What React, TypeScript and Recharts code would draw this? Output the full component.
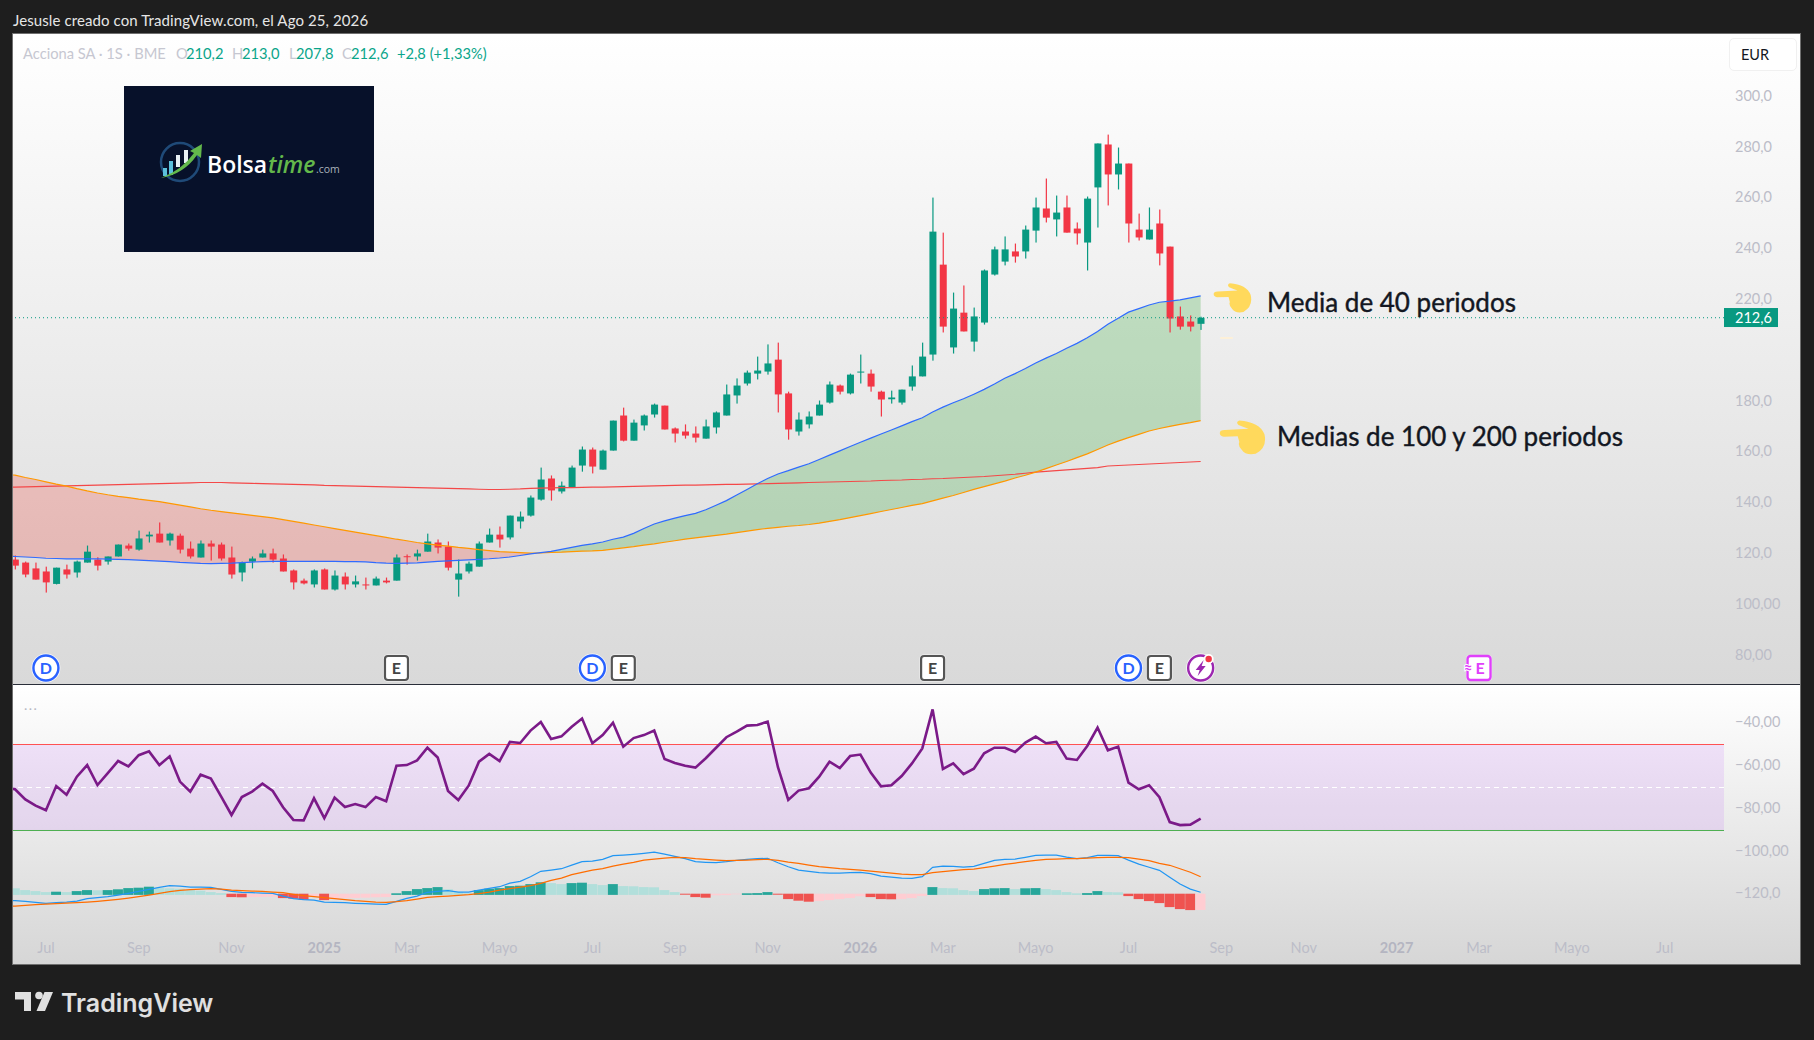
import React from "react";
import { ComposedChart, Bar, Line, Area, XAxis, YAxis, ReferenceLine, ReferenceArea, ReferenceDot, Cell } from "recharts";

// Candles, index 0 = first visible week
const opens = [
117.4,116.2,113.9,112.7,107.8,113.5,112.3,116.2,117.4,116.6,
118.6,122.9,121.3,126.5,127.6,124.9,126.8,121.7,118.2,123.7,
123.3,118.2,112.3,116.6,118.2,119.8,117.8,113.1,109.1,107.6,
113.5,105.6,110.7,107.6,107.6,107.2,109.1,109.1,118.7,118.6,
120.5,124.1,122.5,109.5,112.7,114.6,124.1,127.2,126.1,132.4,
134.7,141.0,149.3,144.2,145.8,154.4,160.7,152.8,160.3,174.1,
164.2,170.2,174.5,178.0,169.0,167.8,167.0,165.0,169.4,174.1,
182.0,186.7,190.6,191.4,196.1,182.8,167.8,170.6,174.1,179.2,
185.9,182.8,191.0,190.6,183.5,180.5,179.2,185.5,189.5,198.1,
233.5,200.9,214.6,203.2,210.7,229.6,234.7,238.7,238.7,246.9,
255.6,251.3,256.0,247.7,242.2,263.9,280.8,269.0,273.3,247.3,
243.4,249.7,240.6,213.1,211.1,210.2];
const highs = [
119.0,116.6,116.2,114.6,114.2,115.4,117.0,122.9,118.3,118.6,
123.3,123.7,128.8,128.4,132.0,128.0,127.6,124.5,124.9,124.9,
124.1,122.5,116.6,118.6,121.3,121.7,119.4,113.5,109.9,113.5,
113.9,113.1,112.3,111.1,110.3,110.7,110.3,119.4,119.4,121.3,
127.6,125.3,124.5,117.4,116.6,124.5,129.6,130.4,134.7,136.3,
142.6,153.6,150.5,148.1,154.4,161.9,161.5,160.7,172.1,177.2,
172.5,174.5,178.8,178.0,169.4,170.6,169.8,172.5,175.7,186.3,
188.7,191.8,197.3,202.1,202.8,183.5,175.3,175.7,180.0,187.5,
186.3,190.6,198.1,192.2,183.9,183.9,184.3,193.8,202.8,259.9,
246.1,222.5,225.3,216.6,231.6,240.6,244.6,241.8,248.9,259.9,
267.4,260.7,260.7,250.1,260.3,281.2,284.7,279.6,273.3,253.6,
256.0,255.2,240.6,217.0,213.5,213.0];
const lows = [
113.5,110.4,109.5,104.4,107.6,109.9,110.3,116.2,113.1,115.4,
118.6,120.9,120.9,124.1,124.1,122.9,119.8,117.8,118.2,117.0,
117.0,109.9,108.8,113.9,118.2,116.2,112.7,105.6,107.6,106.4,
105.6,105.2,105.6,106.4,105.6,107.2,108.0,109.1,115.4,117.0,
120.5,119.8,113.1,102.8,111.9,114.6,124.1,122.1,125.3,129.6,
134.3,140.6,140.6,143.4,145.6,152.0,151.3,152.8,160.3,163.9,
164.2,168.2,173.3,168.6,163.5,165.0,163.5,165.0,167.0,174.1,
178.8,185.9,188.3,190.2,175.3,164.6,166.2,169.0,174.1,178.8,
182.4,182.4,186.7,183.5,173.7,178.8,178.4,183.9,189.5,195.7,
206.8,198.5,207.2,199.3,209.9,229.2,233.2,234.3,235.9,242.2,
250.1,244.6,246.1,241.4,231.2,248.1,256.8,263.1,242.2,243.0,
243.4,233.2,206.8,207.9,207.2,207.8];
const closes = [
115.0,111.5,109.5,108.4,114.2,111.5,116.6,120.5,115.0,118.6,
123.3,121.7,125.7,127.2,124.1,127.6,121.3,118.6,123.7,122.5,
117.8,111.5,116.2,117.8,119.8,117.4,112.7,108.4,108.0,113.1,
105.6,111.1,107.6,108.8,107.2,109.9,108.4,118.2,118.5,119.8,
124.5,122.1,114.2,111.9,115.8,123.7,127.2,125.3,134.7,134.3,
141.8,148.9,144.6,146.5,153.6,160.7,154.0,160.3,172.1,164.2,
171.3,174.1,178.4,168.6,167.0,166.2,165.4,169.8,175.3,182.4,
185.9,191.0,191.8,194.6,182.4,168.6,172.5,173.7,178.4,186.3,
183.5,190.2,191.4,185.5,180.4,181.2,184.3,189.5,197.3,246.5,
209.1,216.2,207.2,213.1,231.2,239.5,239.5,236.7,247.3,256.0,
252.0,254.0,246.1,245.8,259.5,281.2,269.0,273.3,249.7,244.2,
247.3,237.9,212.3,209.1,209.1,212.6];

// Moving averages and oscillators start one week earlier (index -1)
const ma40 = [
118.7,118.6,118.4,118.2,117.9,117.8,117.7,117.7,117.7,117.7,117.6,117.5,117.4,117.2,117.0,116.8,116.6,116.3,116.1,115.9,
115.8,115.9,116.0,116.2,116.4,116.6,116.7,116.7,116.7,116.7,116.7,116.7,116.7,116.6,116.6,116.5,116.2,116.0,115.9,116.0,
116.1,116.4,116.7,116.9,117.1,117.3,117.5,117.7,118.0,118.4,119.0,119.6,120.1,120.6,121.4,122.2,123.0,123.6,124.3,125.4,
126.2,127.7,129.6,131.4,132.6,133.7,134.7,135.6,137.0,138.8,140.6,142.8,145.0,147.2,149.3,151.1,152.4,153.8,155.1,156.8,
158.5,160.2,161.9,163.6,165.2,166.8,168.4,170.0,171.7,173.2,175.5,177.4,179.1,180.7,182.5,184.4,186.5,188.8,190.6,192.6,
194.8,196.7,198.5,200.6,202.5,204.7,207.2,210.0,212.4,214.8,216.2,217.6,218.7,219.1,219.6,220.4,221.2];
const ma100 = [
151.0,150.6,149.7,148.9,148.0,147.1,146.3,145.3,144.4,143.6,142.9,142.3,141.8,141.2,140.7,140.2,139.5,138.8,138.1,137.4,
136.8,136.3,135.8,135.3,134.8,134.3,133.8,133.1,132.4,131.7,131.0,130.3,129.6,128.9,128.2,127.5,126.8,126.1,125.4,124.8,
124.1,123.6,123.1,122.7,122.2,121.8,121.3,120.9,120.5,120.3,120.1,119.9,120.0,120.2,120.3,120.5,120.7,120.8,121.0,121.5,
122.0,122.5,123.1,123.6,124.2,124.8,125.4,125.9,126.4,126.9,127.4,128.0,128.6,129.2,129.7,130.1,130.5,130.8,131.2,131.7,
132.4,133.1,133.9,134.7,135.5,136.3,137.1,137.9,138.7,139.4,140.5,141.6,142.6,143.8,145.0,146.1,147.2,148.3,149.5,150.6,
151.8,153.2,154.6,156.0,157.5,159.0,160.7,162.5,164.0,165.4,166.7,168.0,169.0,169.8,170.6,171.3,172.1];
const ma200 = [
145.9,145.9,146.0,146.1,146.2,146.3,146.4,146.5,146.6,146.7,146.8,146.9,147.0,147.1,147.2,147.3,147.4,147.5,147.6,147.7,
147.7,147.7,147.6,147.5,147.4,147.3,147.2,147.1,147.0,146.9,146.8,146.6,146.5,146.4,146.3,146.2,146.1,146.0,145.9,145.8,
145.7,145.6,145.5,145.4,145.3,145.2,145.1,145.0,145.0,145.1,145.2,145.4,145.5,145.6,145.7,145.7,145.8,145.9,145.9,146.0,
146.1,146.2,146.3,146.4,146.5,146.6,146.7,146.7,146.8,146.9,147.0,147.0,147.1,147.2,147.3,147.4,147.5,147.6,147.7,147.8,
147.9,148.0,148.1,148.2,148.3,148.5,148.6,148.7,148.9,149.0,149.2,149.3,149.5,149.7,149.9,150.1,150.4,150.7,151.0,151.4,
151.8,152.1,152.4,152.7,153.0,153.3,153.6,154.2,154.4,154.6,154.8,155.0,155.2,155.4,155.6,155.8,156.0];
const williams = [
-70.2,-71.4,-76.1,-79.0,-81.2,-69.9,-73.9,-65.5,-60.1,-69.4,-63.9,-58.2,-60.7,-55.5,-53.7,-60.1,-56.0,-67.8,-72.5,-64.6,
-66.4,-74.8,-83.4,-75.0,-72.5,-68.8,-72.2,-79.8,-85.7,-85.9,-75.6,-84.9,-75.3,-79.7,-78.3,-79.7,-75.0,-77.0,-60.4,-60.1,
-57.9,-52.0,-56.6,-72.2,-76.4,-69.7,-58.5,-54.9,-58.2,-49.3,-49.8,-44.0,-40.0,-47.9,-46.7,-42.2,-38.4,-49.9,-46.1,-40.3,
-51.5,-47.5,-46.1,-44.0,-57.3,-59.1,-60.4,-61.3,-56.9,-52.0,-47.1,-44.5,-41.7,-41.4,-39.8,-61.1,-76.4,-72.0,-70.9,-65.5,
-58.5,-61.5,-55.9,-55.2,-63.6,-70.0,-69.5,-65.2,-59.3,-52.3,-34.1,-61.9,-59.3,-64.3,-61.8,-54.6,-52.0,-52.0,-54.0,-49.6,
-46.8,-49.9,-49.3,-57.1,-57.7,-51.2,-42.6,-53.2,-51.5,-68.3,-71.4,-69.5,-75.1,-86.7,-88.1,-87.9,-85.1];
const macdLine = [
-3.3,-3.5,-3.8,-4.3,-4.8,-4.5,-4.2,-3.7,-2.5,-2.0,-1.5,-0.7,0.2,1.2,2.2,3.2,4.0,3.8,3.3,3.3,
3.2,2.2,1.2,0.7,0.5,0.3,0.2,-1.2,-2.5,-3.0,-3.2,-4.2,-4.3,-4.5,-4.8,-5.0,-5.2,-5.3,-3.8,-2.3,
-1.2,0.7,1.2,1.5,0.8,0.8,1.8,2.7,3.5,5.3,6.2,8.5,11.2,11.8,12.5,14.3,16.0,16.3,17.2,19.0,
19.3,19.7,20.2,20.8,19.8,18.7,17.5,16.0,15.7,15.5,16.0,16.7,17.2,17.5,17.7,15.5,13.5,11.8,11.2,10.5,
10.3,10.3,10.5,10.7,10.0,8.8,8.3,7.8,7.7,8.5,13.2,13.8,13.7,13.3,13.7,15.2,16.7,17.2,17.3,18.2,
19.2,19.3,19.3,18.3,17.5,18.0,19.2,19.2,19.0,16.8,14.8,13.2,11.7,8.2,4.8,2.3,0.7];
const signalLine = [
-6.5,-6.2,-5.8,-5.5,-5.2,-5.0,-4.7,-4.5,-4.2,-3.8,-3.3,-2.8,-2.2,-1.5,-0.7,0.2,1.0,1.7,2.0,2.3,
2.5,2.3,1.8,1.5,1.3,1.2,0.8,0.5,-0.3,-1.0,-1.5,-2.0,-2.5,-3.0,-3.5,-3.8,-4.2,-4.3,-4.0,-3.5,
-2.7,-1.8,-1.5,-1.2,-0.8,-0.5,0.0,0.8,1.8,2.5,3.3,4.0,5.2,6.7,7.8,9.5,10.7,11.8,12.5,13.8,
14.8,15.7,16.8,17.3,17.8,18.2,18.0,17.5,17.2,16.8,16.5,16.7,16.8,17.0,17.2,16.7,15.8,15.2,14.3,13.5,
13.0,12.5,12.2,11.8,11.3,10.8,10.3,9.8,9.5,9.5,10.5,11.0,11.5,12.0,12.3,13.0,13.8,14.7,15.3,16.0,
16.7,17.2,17.3,17.5,17.5,17.8,18.0,18.2,18.2,18.0,17.3,16.5,15.2,14.2,12.5,10.7,8.5];
const histogram = [
3.5,2.7,1.8,1.3,0.8,1.0,0.8,1.3,1.8,1.7,1.8,2.2,2.8,3.0,3.5,2.8,2.7,2.5,1.8,1.5,
0.8,0.3,-1.7,-1.8,-1.7,-1.6,-1.5,-2.2,-2.5,-3.0,-1.5,-3.2,-2.5,-2.3,-2.2,-2.0,-1.8,-1.7,0.2,1.3,
2.3,2.8,3.3,2.2,0.8,0.2,1.8,2.5,2.8,3.8,4.0,4.8,5.7,5.3,4.8,5.3,5.5,4.8,4.3,4.8,
3.8,3.7,3.3,3.2,1.8,0.8,-0.5,-1.7,-2.0,-0.8,-0.7,-0.3,0.2,0.3,0.8,-0.5,-2.7,-3.5,-4.0,-3.7,
-3.2,-2.7,-2.2,-1.3,-1.7,-2.7,-2.8,-2.7,-2.2,-1.2,3.3,2.8,2.7,1.8,1.3,2.3,2.7,2.8,2.3,2.7,
2.8,2.3,1.8,0.8,0.2,0.3,1.3,0.8,0.7,-1.2,-2.7,-3.7,-4.7,-6.7,-7.7,-8.2,-8.1];

const lastPrice = 212.6;
const priceTicks = [80, 100, 120, 140, 160, 180, 220, 240, 260, 280, 300];
const priceTickLabels = ["80,00", "100,00", "120,0", "140,0", "160,0", "180,0", "220,0", "240,0", "260,0", "280,0", "300,0"];
const oscTicks = [-40, -60, -80, -100, -120];
const oscTickLabels = ["−40,00", "−60,00", "−80,00", "−100,00", "−120,0"];
const timeTicks = [3, 12, 21, 30, 38, 47, 56, 64, 73, 82, 90, 99, 108, 117, 125, 134, 142, 151, 160];
const timeLabels = ["Jul", "Sep", "Nov", "2025", "Mar", "Mayo", "Jul", "Sep", "Nov", "2026", "Mar", "Mayo", "Jul", "Sep", "Nov", "2027", "Mar", "Mayo", "Jul"];
const eventIndex = [3, 37, 56, 59, 89, 108, 111, 115, 142];
const eventKind = ["D", "E", "D", "E", "E", "D", "E", "F", "N"];

const rows = ma40.map((m, k) => {
  const i = k - 1;
  const hist = histogram[k];
  const prevHist = k > 0 ? histogram[k - 1] : hist + 1;
  const below = m < ma100[k];
  const prevBelow = k > 0 && ma40[k - 1] < ma100[k - 1];
  const nextAbove = k < ma40.length - 1 && ma40[k + 1] >= ma100[k + 1];
  return {
    i,
    open: opens[i], high: highs[i], low: lows[i], close: closes[i],
    m40: m, m100: ma100[k], m200: ma200[k],
    redBand: below || prevBelow ? [m, ma100[k]] : null,
    greenBand: !below || nextAbove ? [ma100[k], m] : null,
    wr: williams[k], macd: macdLine[k], signal: signalLine[k],
    hist: hist > 0 ? [-0.6, hist] : [hist, 0],
    histColor: hist > 0 ? (hist >= prevHist ? "#26a69a" : "#b2dfdb") : (hist <= prevHist ? "#ef5350" : "#ffcdd2"),
  };
});

const GREEN = "#089981";
const RED = "#f23645";
const FONT = "Lato, 'Open Sans', sans-serif";
const AXIS_TEXT = "#bcbdc8";
const LEGEND_GREY = "#c6c7d1";
const LEGEND_VALUE = "#0aa58a";
const X_DOMAIN = [-0.194, 165.76];

const candleRange = (d: any) => (d.i >= 0 ? [d.low, d.high] : null);

const Candle = (p: any) => {
  const { x, y, width, height, payload: d } = p;
  if (d.i < 0 || d.high == null) return null;
  const top = Math.min(y, y + height);
  const h = Math.abs(height);
  const cx = x + width / 2;
  const at = (v: number) => top + ((d.high - v) / (d.high - d.low)) * h;
  const bodyTop = at(Math.max(d.open, d.close));
  const bodyBottom = at(Math.min(d.open, d.close));
  const fill = d.close >= d.open ? GREEN : RED;
  return (
    <g>
      <rect x={cx - 0.6} y={top} width={1.2} height={h} fill={fill} />
      <rect x={x} y={bodyTop} width={width} height={Math.max(1, bodyBottom - bodyTop)} fill={fill} />
    </g>
  );
};

const TICK_X = 1722;

const PriceTick = (p: any) => {
  const { y, payload } = p;
  if (payload.value === lastPrice) {
    return (
      <g>
        <rect x={1711} y={y - 9.7} width={54} height={19} fill={GREEN} />
        <text x={TICK_X} y={y} dy={5} fontSize={14.5} fontFamily={FONT} fill="#fff">212,6</text>
      </g>
    );
  }
  return <text x={TICK_X} y={y} dy={5} fontSize={14.5} fontFamily={FONT} fill={AXIS_TEXT}>{priceTickLabels[priceTicks.indexOf(payload.value)]}</text>;
};

const OscTick = (p: any) => (
  <text x={TICK_X} y={p.y} dy={5} fontSize={14.5} fontFamily={FONT} fill={AXIS_TEXT}>{oscTickLabels[oscTicks.indexOf(p.payload.value)]}</text>
);

const TimeTick = (p: any) => {
  const label = timeLabels[timeTicks.indexOf(p.payload.value)];
  const year = /^\d+$/.test(label);
  return (
    <text x={p.x} y={268} textAnchor="middle" fontSize={14.5} fontWeight={year ? 700 : 400} fontFamily={FONT} fill={year ? "#b4b5c1" : AXIS_TEXT}>{label}</text>
  );
};

const EventBadge = (kind: string) => (p: any) => {
  const { cx, cy } = p;
  if (kind === "D") {
    return (
      <g>
        <circle cx={cx} cy={cy} r={14.5} fill="#fff" opacity={0.8} />
        <circle cx={cx} cy={cy} r={12.5} fill="#fff" stroke="#2962ff" strokeWidth={2.4} />
        <text x={cx} y={cy + 6} textAnchor="middle" fontSize={16} fontFamily={FONT} fontWeight={700} fill="#2962ff">D</text>
      </g>
    );
  }
  if (kind === "E") {
    return (
      <g>
        <rect x={cx - 13} y={cy - 13.5} width={26} height={27} rx={4} fill="#fff" opacity={0.8} />
        <rect x={cx - 11.5} y={cy - 12} width={23} height={24} rx={3} fill="#fff" stroke="#555" strokeWidth={2.2} />
        <text x={cx} y={cy + 6} textAnchor="middle" fontSize={16} fontFamily={FONT} fontWeight={700} fill="#444">E</text>
      </g>
    );
  }
  if (kind === "N") {
    return (
      <g>
        <rect x={cx - 13} y={cy - 13} width={26} height={26} rx={4} fill="#fff" opacity={0.8} />
        <rect x={cx - 11.5} y={cy - 12} width={23} height={24} rx={3} fill="#fff" stroke="#e040fb" strokeWidth={2.4} />
        <text x={cx + 1} y={cy + 6} textAnchor="middle" fontSize={16} fontFamily={FONT} fontWeight={700} fill="#e040fb">E</text>
        <text x={cx - 11} y={cy + 5} textAnchor="middle" fontSize={15} fontFamily={FONT} fontWeight={700} fill="#e040fb" stroke="#fff" strokeWidth={2} paintOrder="stroke">≈</text>
      </g>
    );
  }
  return (
    <g>
      <circle cx={cx} cy={cy} r={14.5} fill="#fff" opacity={0.8} />
      <circle cx={cx} cy={cy} r={12.5} fill="#fff" stroke="#9c27b0" strokeWidth={2.4} />
      <path d={`M${cx + 3} ${cy - 8} L${cx - 5} ${cy + 2} L${cx - 1} ${cy + 2} L${cx - 3} ${cy + 8} L${cx + 5} ${cy - 2} L${cx + 1} ${cy - 2} Z`} fill="#9c27b0" />
      <circle cx={cx + 8} cy={cy - 9} r={5} fill="#fff" />
      <circle cx={cx + 8} cy={cy - 9} r={3.2} fill="#f23645" />
    </g>
  );
};

const Hand = ({ left, top, width, height }: { left: number; top: number; width: number; height: number }) => (
  <svg style={{ position: "absolute", left, top }} width={width} height={height} viewBox="38 38 118 92" preserveAspectRatio="none">
    <path d="M40 72 Q40 64 52 64 L112 61 Q100 56 87 51 Q79 43 89 39 Q140 43 152 75 Q160 110 130 127 Q105 132 95 116 Q85 106 89 96 L85 81 L50 82 Q40 80 40 72 Z" fill="#ffd95c" />
  </svg>
);

const abs = (left: number, cy: number, extra: React.CSSProperties = {}): React.CSSProperties => ({
  position: "absolute", left, top: cy - 10, height: 20, lineHeight: "20px", whiteSpace: "nowrap", fontFamily: FONT, ...extra,
});

const Logo = () => (
  <svg style={{ position: "absolute", left: 124, top: 86 }} width={250} height={166} viewBox="124 86 250 166">
    <rect x={124} y={86} width={250} height={166} fill="#07112a" />
    <circle cx={180} cy={162} r={19} fill="none" stroke="#1f4a78" strokeWidth={2.5} />
    <rect x={163} y={168} width={4} height={8} fill="#5cc0dc" />
    <rect x={169} y={161} width={4} height={14} fill="#5cc0dc" />
    <rect x={176} y={155} width={4} height={12} fill="#e8f0f4" />
    <rect x={184} y={150} width={4} height={13} fill="#e8f0f4" />
    <path d="M161 178 Q182 170 194 153 L190 151 L202 144 L201 158 L197 155 Q184 174 161 178 Z" fill="#63b84b" />
    <text x={207} y={173} fontSize={23} fontWeight={600} fontFamily="'Open Sans', sans-serif" fill="#fff">Bolsa</text>
    <text x={268} y={173} fontSize={23} fontWeight={600} fontStyle="italic" fontFamily="'Open Sans', sans-serif" fill="#63b84b">time</text>
    <text x={316} y={173} fontSize={10.5} fontFamily="'Open Sans', sans-serif" fill="#aab2bb">.com</text>
  </svg>
);

const annotation: React.CSSProperties = { position: "absolute", height: 30, lineHeight: "30px", fontSize: 26, color: "#131722", whiteSpace: "nowrap", fontFamily: FONT, WebkitTextStroke: "0.4px #131722" };

export default function App() {
  return (
    <div style={{ position: "absolute", left: 0, top: 0, width: 1814, height: 1040, background: "#1e1e1e", overflow: "hidden", fontFamily: FONT }}>
      <div style={abs(13, 20, { color: "#e6e6e6", fontSize: 15, letterSpacing: 0.1 })}>Jesusle creado con TradingView.com, el Ago 25, 2026</div>

      <div style={{ position: "absolute", left: 12, top: 33, width: 1789, height: 932, border: "1px solid #6f6f6f", boxSizing: "border-box" }} />

      {/* price pane */}
      <div style={{ position: "absolute", left: 13, top: 34, width: 1787, height: 650, background: "linear-gradient(#ffffff, #d9d9d9)", overflow: "hidden" }}>
        <ComposedChart width={1787} height={650} data={rows} margin={{ top: 0, right: 0, bottom: 0, left: 0 }}>
          <XAxis dataKey="i" type="number" domain={X_DOMAIN} allowDataOverflow hide />
          <YAxis orientation="right" width={76} domain={[68.4, 324.3]} allowDataOverflow ticks={[...priceTicks, lastPrice]} interval={0} tick={PriceTick} tickLine={false} axisLine={false} />
          <ReferenceLine y={lastPrice} stroke={GREEN} strokeDasharray="1 3" strokeWidth={1} />
          <Bar dataKey={candleRange} barSize={7} shape={Candle} isAnimationActive={false} />
          <Area dataKey="redBand" stroke="none" fill="#f44336" fillOpacity={0.25} isAnimationActive={false} dot={false} activeDot={false} />
          <Area dataKey="greenBand" stroke="none" fill="#4caf50" fillOpacity={0.3} isAnimationActive={false} dot={false} activeDot={false} />
          <Line dataKey="m200" stroke="#f44848" strokeWidth={1.1} dot={false} activeDot={false} isAnimationActive={false} />
          <Line dataKey="m100" stroke="#ff9800" strokeWidth={1.2} dot={false} activeDot={false} isAnimationActive={false} />
          <Line dataKey="m40" stroke="#2f6bff" strokeWidth={1.2} dot={false} activeDot={false} isAnimationActive={false} />
          {eventIndex.map((x, n) => (
            <ReferenceDot key={n} x={x} y={74.7} r={13} shape={EventBadge(eventKind[n])} ifOverflow="visible" />
          ))}
        </ComposedChart>
      </div>

      <div style={{ position: "absolute", left: 13, top: 684, width: 1787, height: 1, background: "#2a2e39" }} />

      {/* oscillator pane and time axis */}
      <div style={{ position: "absolute", left: 13, top: 685, width: 1787, height: 279, background: "linear-gradient(#ffffff, #d6d6d6)", overflow: "hidden" }}>
        <ComposedChart width={1787} height={279} data={rows} margin={{ top: 0, right: 0, bottom: 0, left: 0 }}>
          <XAxis dataKey="i" type="number" domain={X_DOMAIN} allowDataOverflow ticks={timeTicks} interval={0} height={32} tick={TimeTick} tickLine={false} axisLine={false} />
          <YAxis yAxisId="osc" orientation="right" width={76} domain={[-138, -22.73]} allowDataOverflow ticks={oscTicks} interval={0} tick={OscTick} tickLine={false} axisLine={false} />
          <YAxis yAxisId="macd" hide domain={[-19.15, 104.35]} allowDataOverflow />
          <ReferenceArea yAxisId="osc" y1={-50.5} y2={-90.63} fill="#a31fff" fillOpacity={0.1} stroke="none" />
          <ReferenceLine yAxisId="osc" y={-50.5} stroke="#ff5252" strokeWidth={1} />
          <ReferenceLine yAxisId="osc" y={-70.57} stroke="#fff" strokeWidth={1} strokeDasharray="5 4" />
          <ReferenceLine yAxisId="osc" y={-90.63} stroke="#4caf50" strokeWidth={1} />
          <Bar yAxisId="macd" dataKey="hist" barSize={10} isAnimationActive={false}>
            {rows.map((r) => <Cell key={r.i} fill={r.histColor} />)}
          </Bar>
          <ReferenceLine yAxisId="macd" stroke="#fff" strokeWidth={1} segment={[{ x: -1, y: 0 }, { x: 115.5, y: 0 }]} />
          <Line yAxisId="macd" dataKey="macd" stroke="#2196f3" strokeWidth={1.2} dot={false} activeDot={false} isAnimationActive={false} />
          <Line yAxisId="macd" dataKey="signal" stroke="#ff6d00" strokeWidth={1.2} dot={false} activeDot={false} isAnimationActive={false} />
          <Line yAxisId="osc" dataKey="wr" stroke="#7b1a88" strokeWidth={2.6} dot={false} activeDot={false} isAnimationActive={false} />
        </ComposedChart>
      </div>

      {/* legend */}
      <div style={abs(23, 53, { color: LEGEND_GREY, fontSize: 14.7 })}>Acciona SA · 1S · BME</div>
      <div style={abs(176, 53, { color: LEGEND_GREY, fontSize: 14.7 })}>O</div>
      <div style={abs(186, 53, { color: LEGEND_VALUE, fontSize: 14.7 })}>210,2</div>
      <div style={abs(232, 53, { color: LEGEND_GREY, fontSize: 14.7 })}>H</div>
      <div style={abs(242, 53, { color: LEGEND_VALUE, fontSize: 14.7 })}>213,0</div>
      <div style={abs(289, 53, { color: LEGEND_GREY, fontSize: 14.7 })}>L</div>
      <div style={abs(296, 53, { color: LEGEND_VALUE, fontSize: 14.7 })}>207,8</div>
      <div style={abs(342, 53, { color: LEGEND_GREY, fontSize: 14.7 })}>C</div>
      <div style={abs(351, 53, { color: LEGEND_VALUE, fontSize: 14.7 })}>212,6</div>
      <div style={abs(397, 53, { color: LEGEND_VALUE, fontSize: 14.7 })}>+2,8 (+1,33%)</div>
      <div style={abs(24, 705, { color: "#b6b7c2", fontSize: 14, letterSpacing: 1.5 })}>...</div>

      <div style={{ position: "absolute", left: 1729, top: 38, width: 68, height: 33, boxSizing: "border-box", background: "#fff", border: "1px solid #f0f0f0", borderRadius: 5, paddingLeft: 11, lineHeight: "31px", fontSize: 14.5, color: "#131722", fontFamily: FONT }}>EUR</div>

      <Logo />

      <Hand left={1213} top={283} width={39} height={30} />
      <Hand left={1219} top={420} width={47} height={35} />
      <div style={{ position: "absolute", left: 1220, top: 337, width: 13, height: 2, borderRadius: 1, background: "#fdf0d8" }} />

      <div style={{ ...annotation, left: 1267, top: 287 }}>Media de 40 periodos</div>
      <div style={{ ...annotation, left: 1277, top: 421 }}>Medias de 100 y 200 periodos</div>

      {/* TradingView mark */}
      <svg style={{ position: "absolute", left: 0, top: 980 }} width={60} height={40} viewBox="0 980 60 40">
        <path d="M15 992 H31 V1011 H24 V999.5 H15 Z" fill="#e0e0e0" />
        <circle cx={39} cy={995.5} r={3.8} fill="#e0e0e0" />
        <path d="M44.5 992 H53 L45 1011 H36.5 Z" fill="#e0e0e0" />
      </svg>
      <div style={{ position: "absolute", left: 61, top: 986, height: 34, lineHeight: "34px", fontSize: 25, fontWeight: 600, color: "#e0e0e0", fontFamily: "Inter, sans-serif", letterSpacing: 0, whiteSpace: "nowrap" }}>TradingView</div>
    </div>
  );
}
